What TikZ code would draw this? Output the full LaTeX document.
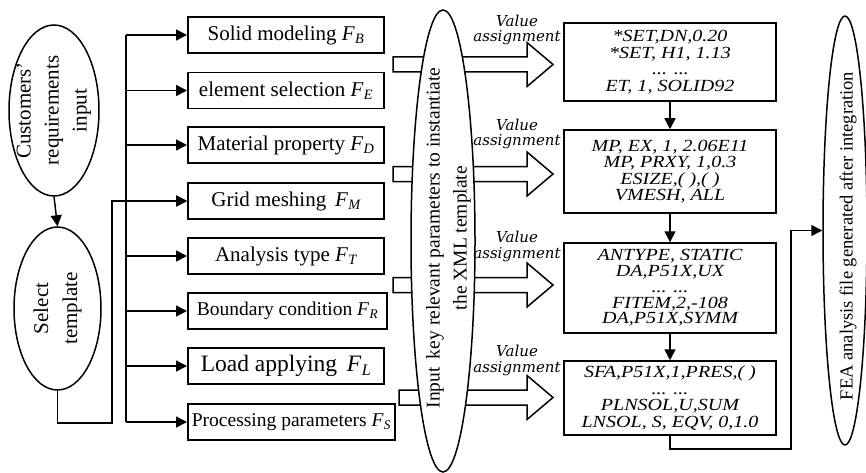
\documentclass[tikz,border=0pt]{standalone}
\usepackage{fontspec}
\setmainfont{Liberation Serif}
\newfontfamily\codefont[FakeStretch=1.18]{Liberation Serif}
\newfontfamily\valfont{DejaVu Serif}
\usetikzlibrary{shapes.geometric,arrows.meta}
\newcommand{\FF}[1]{\textit{F\kern0.02em\raisebox{-0.35ex}{\scalebox{0.68}{#1}}}}
\tikzset{
  ln/.style={line width=1.5pt},
  arr/.style={ln,-{Triangle[length=11pt,width=11pt]}},
  ell/.style={draw,ln,ellipse,inner sep=0pt,fill=white},
  lbox/.style={draw,ln,rectangle,anchor=west,minimum height=36,minimum width=196,inner sep=0pt,font=\fontsize{21}{24}\selectfont},
  rbox/.style={draw,ln,rectangle,minimum width=212,inner sep=0pt,align=center,font=\codefont\itshape\fontsize{17}{16.5}\selectfont},
  vtext/.style={rotate=90,align=center,inner sep=0pt},
  val/.style={align=center,inner sep=0pt,font=\valfont\itshape\fontsize{15}{15.5}\selectfont},
  blk/.style={draw,ln,fill=white,line join=miter}
}
\newcommand{\barrow}[2]{\draw[blk] (#1,#2-7.5) -- (527,#2-7.5) -- (527,#2-22) -- (553,#2) -- (527,#2+22) -- (527,#2+7.5) -- (#1,#2+7.5) -- cycle;}
\begin{document}
\begin{tikzpicture}[x=1pt,y=-1pt]
\useasboundingbox (0,0) rectangle (866,473);

% left ellipses
\node[ell,minimum width=90,minimum height=171] (cust) at (54,110.5) {};
\node[vtext,font=\fontsize{21}{28}\selectfont] (custt) at (cust) {Customers'\\requirements\\input};
\node[ell,minimum width=87,minimum height=163] (sel) at (57.5,308.5) {};
\node[vtext,font=\fontsize{21}{29}\selectfont] (selt) at (sel) {Select\\template};
\draw[arr] (cust.south) -- (sel.north);

% left boxes
\node[lbox] (fb) at (187,35) {Solid modeling \FF{B}};
\node[lbox] (fe) at (187,90.5) {element selection \FF{E}};
\node[lbox] (fd) at (187,145) {Material property \FF{D}};
\node[lbox] (fm) at (187,201) {Grid meshing\, \FF{M}};
\node[lbox] (ft) at (187,256) {Analysis type \FF{T}};
\node[lbox,minimum width=199,font=\fontsize{19.5}{22}\selectfont] (fr) at (187,311) {Boundary condition \FF{R}};
\node[lbox,font=\fontsize{23.5}{26}\selectfont] (fl) at (187,366) {Load applying\, \FF{L}};
\node[lbox,minimum width=207,font=\fontsize{19.5}{22}\selectfont] (fs) at (187,422) {Processing parameters \FF{S}};

% bus
\coordinate (bt) at (126,35);
\coordinate (bb) at (126,422);
\draw[ln] (bt) -- (bb);
\foreach \n in {fb,fe,fd,fm,ft,fr,fl,fs}{
  \draw[arr] (bt |- \n.west) -- (\n.west);
}
\coordinate (c1) at (112,423);
\draw[arr] (sel.south) |- (c1) |- (fm.west);

% block arrows
\barrow{393}{64.5}
\barrow{393}{174}
\barrow{393}{285}
\barrow{399}{397.5}

% big ellipse
\node[ell,minimum width=64,minimum height=462] (inp) at (443,241) {};
\node[vtext,font=\fontsize{19.5}{27}\selectfont] (inpt) at (448.5,238) {Input\, key relevant parameters to instantiate\\the XML template};

% value labels
\node[val] (v1) at (517,30) {Value\\assignment};
\node[val] (v2) at (517,134) {Value\\assignment};
\node[val] (v3) at (517,246.5) {Value\\assignment};
\node[val] (v4) at (517,360.5) {Value\\assignment};

% right boxes
\node[rbox,minimum height=78] (b1) at (670,62) {*SET,DN,0.20\\*SET, H1, 1.13\\\textup{... ...}\\ET, 1, SOLID92};
\node[rbox,minimum height=83] (b2) at (670,171.5) {MP, EX, 1, 2.06E11\\MP, PRXY, 1,0.3\\ESIZE,( ),( )\\VMESH, ALL};
\node[rbox,minimum height=90,font=\codefont\itshape\fontsize{17}{15.8}\selectfont] (b3) at (670,288) {ANTYPE, STATIC\\DA,P51X,UX\\... ...\\FITEM,2,-108\\DA,P51X,SYMM};
\node[rbox,minimum height=74] (b4) at (670,398) {SFA,P51X,1,PRES,( )\\... ...\\PLNSOL,U,SUM\\LNSOL, S, EQV, 0,1.0};
\draw[arr] (b1.south) -- (b2.north);
\draw[arr] (b2.south) -- (b3.north);
\draw[arr] (b3.south) -- (b4.north);

% right ellipse
\node[ell,minimum width=44,minimum height=429] (fea) at (845,230.5) {};
\node[vtext,font=\fontsize{18.5}{22}\selectfont] (feat) at (848,236) {FEA analysis file generated after integration};
\coordinate (c2) at (791,449);
\draw[arr] (b4.south) |- (c2) |- (fea.west);
\end{tikzpicture}
\end{document}
